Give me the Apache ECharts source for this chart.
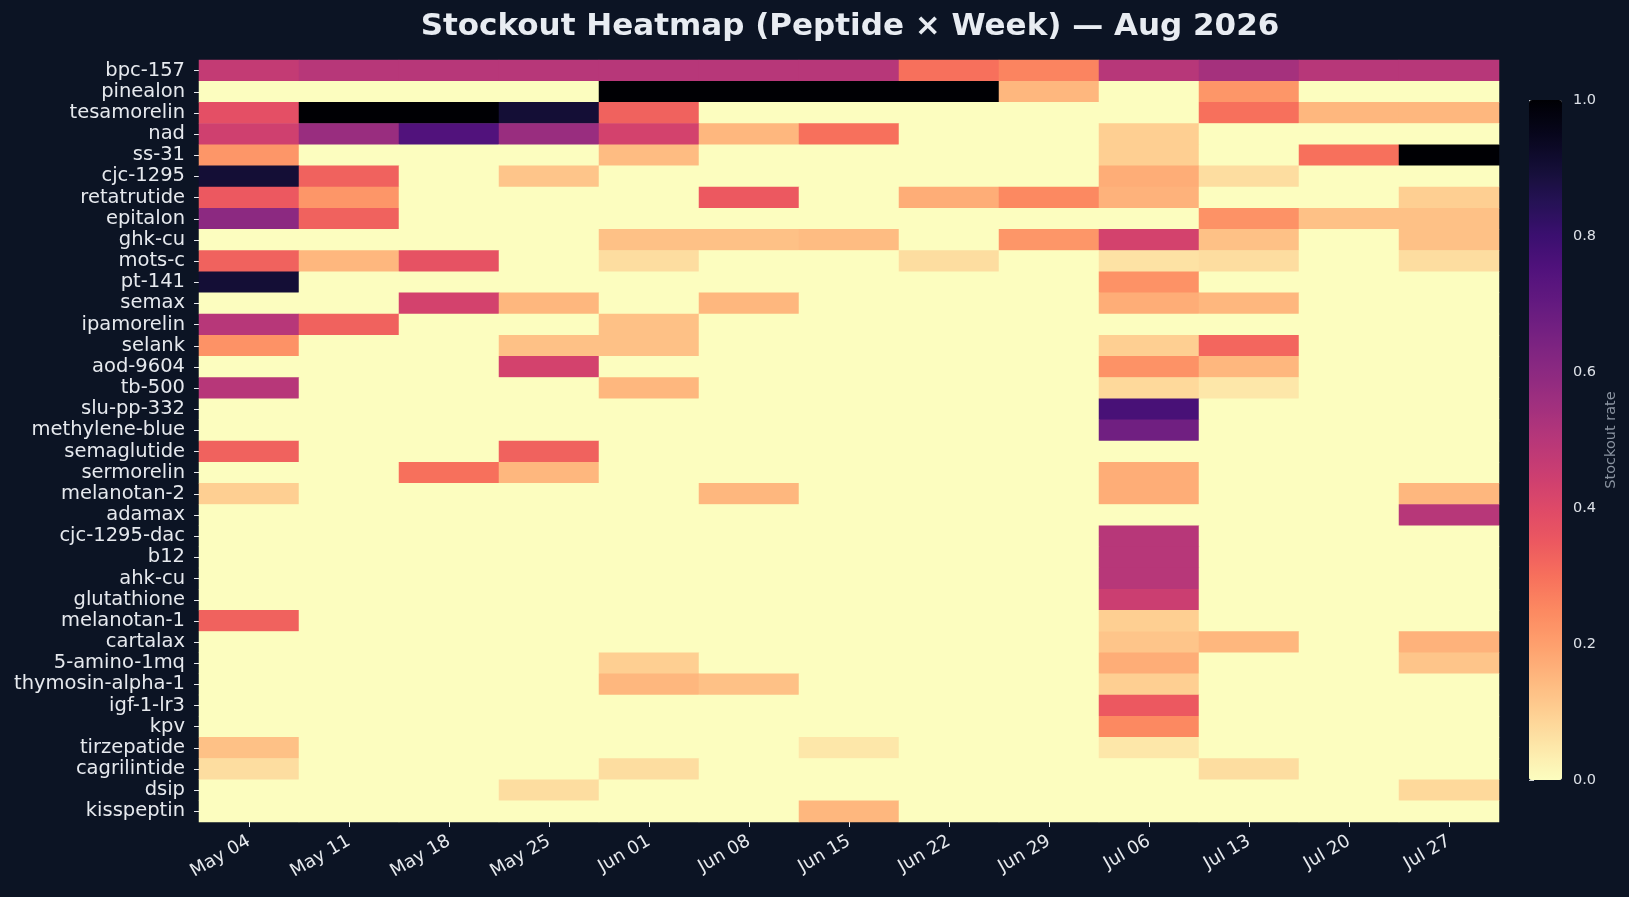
<!DOCTYPE html>
<html>
<head>
<meta charset="utf-8">
<script src="https://cdn.jsdelivr.net/npm/echarts@6/dist/echarts.min.js"></script>
<style>
  html, body { margin: 0; padding: 0; background: #0c1424; }
  #chart { width: 1629px; height: 897px; }
</style>
</head>
<body>
<div id="chart"></div>
<script>
// weeks on x, peptides on y (top to bottom)
const weeks = ['May 04', 'May 11', 'May 18', 'May 25', 'Jun 01', 'Jun 08', 'Jun 15',
               'Jun 22', 'Jun 29', 'Jul 06', 'Jul 13', 'Jul 20', 'Jul 27'];

const peptides = ['bpc-157', 'pinealon', 'tesamorelin', 'nad', 'ss-31', 'cjc-1295',
  'retatrutide', 'epitalon', 'ghk-cu', 'mots-c', 'pt-141', 'semax', 'ipamorelin',
  'selank', 'aod-9604', 'tb-500', 'slu-pp-332', 'methylene-blue', 'semaglutide',
  'sermorelin', 'melanotan-2', 'adamax', 'cjc-1295-dac', 'b12', 'ahk-cu',
  'glutathione', 'melanotan-1', 'cartalax', '5-amino-1mq', 'thymosin-alpha-1',
  'igf-1-lr3', 'kpv', 'tirzepatide', 'cagrilintide', 'dsip', 'kisspeptin'];

// stockout rate per peptide (row) per week (column)
const stockoutRates = [
  [0.47, 0.50, 0.50, 0.50, 0.50, 0.50, 0.50, 0.30, 0.26, 0.50, 0.54, 0.50, 0.50], // bpc-157
  [0, 0, 0, 0, 1.00, 1.00, 1.00, 1.00, 0.15, 0, 0.22, 0, 0],                      // pinealon
  [0.38, 1.00, 1.00, 0.90, 0.33, 0, 0, 0, 0, 0, 0.30, 0.15, 0.15],                // tesamorelin
  [0.44, 0.57, 0.75, 0.57, 0.43, 0.15, 0.30, 0, 0, 0.10, 0, 0, 0],                // nad
  [0.22, 0, 0, 0, 0.14, 0, 0, 0, 0, 0.10, 0, 0.30, 1.00],                         // ss-31
  [0.90, 0.33, 0, 0.12, 0, 0, 0, 0, 0, 0.17, 0.07, 0, 0],                         // cjc-1295
  [0.35, 0.22, 0, 0, 0, 0.35, 0, 0.17, 0.25, 0.16, 0, 0, 0.10],                   // retatrutide
  [0.60, 0.33, 0, 0, 0, 0, 0, 0, 0, 0, 0.23, 0.13, 0.13],                         // epitalon
  [0, 0, 0, 0, 0.13, 0.13, 0.14, 0, 0.22, 0.43, 0.13, 0, 0.13],                   // ghk-cu
  [0.33, 0.15, 0.37, 0, 0.07, 0, 0, 0.07, 0, 0.06, 0.07, 0, 0.07],                // mots-c
  [0.90, 0, 0, 0, 0, 0, 0, 0, 0, 0.23, 0, 0, 0],                                  // pt-141
  [0, 0, 0.43, 0.15, 0, 0.15, 0, 0, 0, 0.17, 0.15, 0, 0],                         // semax
  [0.50, 0.33, 0, 0, 0.13, 0, 0, 0, 0, 0, 0, 0, 0],                               // ipamorelin
  [0.23, 0, 0, 0.13, 0.13, 0, 0, 0, 0, 0.10, 0.32, 0, 0],                         // selank
  [0, 0, 0, 0.43, 0, 0, 0, 0, 0, 0.23, 0.15, 0, 0],                               // aod-9604
  [0.50, 0, 0, 0, 0.15, 0, 0, 0, 0, 0.08, 0.05, 0, 0],                            // tb-500
  [0, 0, 0, 0, 0, 0, 0, 0, 0, 0.77, 0, 0, 0],                                     // slu-pp-332
  [0, 0, 0, 0, 0, 0, 0, 0, 0, 0.67, 0, 0, 0],                                     // methylene-blue
  [0.33, 0, 0, 0.33, 0, 0, 0, 0, 0, 0, 0, 0, 0],                                  // semaglutide
  [0, 0, 0.30, 0.15, 0, 0, 0, 0, 0, 0.17, 0, 0, 0],                               // sermorelin
  [0.10, 0, 0, 0, 0, 0.15, 0, 0, 0, 0.17, 0, 0, 0.15],                            // melanotan-2
  [0, 0, 0, 0, 0, 0, 0, 0, 0, 0, 0, 0, 0.50],                                     // adamax
  [0, 0, 0, 0, 0, 0, 0, 0, 0, 0.50, 0, 0, 0],                                     // cjc-1295-dac
  [0, 0, 0, 0, 0, 0, 0, 0, 0, 0.50, 0, 0, 0],                                     // b12
  [0, 0, 0, 0, 0, 0, 0, 0, 0, 0.50, 0, 0, 0],                                     // ahk-cu
  [0, 0, 0, 0, 0, 0, 0, 0, 0, 0.45, 0, 0, 0],                                     // glutathione
  [0.33, 0, 0, 0, 0, 0, 0, 0, 0, 0.10, 0, 0, 0],                                  // melanotan-1
  [0, 0, 0, 0, 0, 0, 0, 0, 0, 0.12, 0.15, 0, 0.16],                               // cartalax
  [0, 0, 0, 0, 0.10, 0, 0, 0, 0, 0.17, 0, 0, 0.12],                               // 5-amino-1mq
  [0, 0, 0, 0, 0.15, 0.13, 0, 0, 0, 0.10, 0, 0, 0],                               // thymosin-alpha-1
  [0, 0, 0, 0, 0, 0, 0, 0, 0, 0.35, 0, 0, 0],                                     // igf-1-lr3
  [0, 0, 0, 0, 0, 0, 0, 0, 0, 0.25, 0, 0, 0],                                     // kpv
  [0.13, 0, 0, 0, 0, 0, 0.05, 0, 0, 0.05, 0, 0, 0],                               // tirzepatide
  [0.07, 0, 0, 0, 0.07, 0, 0, 0, 0, 0, 0.07, 0, 0],                               // cagrilintide
  [0, 0, 0, 0.07, 0, 0, 0, 0, 0, 0, 0, 0, 0.08],                                  // dsip
  [0, 0, 0, 0, 0, 0, 0.15, 0, 0, 0, 0, 0, 0]                                      // kisspeptin
];

// magma colormap, reversed (0 = pale yellow, 1 = black)
const magmaReversed = ['#fcfdbf', '#fde7a9', '#fecf92', '#feb77e', '#fe9f6d', '#fc8961',
  '#f7705c', '#ec5860', '#de4968', '#cb3e71', '#b73779', '#a1307e', '#8c2981', '#782281',
  '#641a80', '#51127c', '#3b0f70', '#251255', '#140e36', '#07061c', '#000004'];

const cells = [];
stockoutRates.forEach((row, y) => {
  row.forEach((v, x) => cells.push([x, y, v]));
});

const textColor = '#e6e9ee';
const font = 'DejaVu Sans';

const chart = echarts.init(document.getElementById('chart'), null, { renderer: 'canvas' });

chart.setOption({
  backgroundColor: '#0c1424',
  animation: false,
  title: {
    text: 'Stockout Heatmap (Peptide \u00d7 Week) \u2014 Aug 2026',
    left: 845,
    textAlign: 'center',
    top: 6,
    textStyle: { color: '#e8ecf2', fontSize: 31, fontWeight: 'bold', fontFamily: font }
  },
  grid: [
    // pale fill under the cells hides anti-aliasing seams between them
    { left: 199, top: 60, width: 1300, height: 762, show: true,
      backgroundColor: magmaReversed[0], borderWidth: 0 },
    { left: 1529, top: 100, width: 33, height: 680 }
  ],
  xAxis: [
    {
      type: 'category',
      data: weeks,
      gridIndex: 0,
      position: 'bottom',
      axisLine: { show: false },
      axisTick: { show: true, alignWithLabel: true, length: 5, lineStyle: { color: textColor } },
      axisLabel: { rotate: 30, margin: 18, fontSize: 18, color: textColor, fontFamily: font, interval: 0 },
      splitLine: { show: false }
    },
    { type: 'value', gridIndex: 1, show: false, min: 0, max: 1 }
  ],
  yAxis: [
    {
      type: 'category',
      data: peptides,
      gridIndex: 0,
      inverse: true,
      axisLine: { show: false },
      axisTick: { show: true, alignWithLabel: true, length: 5, lineStyle: { color: textColor } },
      axisLabel: { margin: 14, fontSize: 19.5, color: textColor, fontFamily: font, interval: 0 },
      splitLine: { show: false }
    },
    {
      type: 'value',
      gridIndex: 1,
      position: 'right',
      min: 0,
      max: 1,
      interval: 0.2,
      name: 'Stockout rate',
      nameLocation: 'middle',
      nameRotate: 90,
      nameGap: 42,
      nameTextStyle: { color: '#8a93a0', fontSize: 14.5, fontFamily: font },
      axisLine: { show: false },
      axisTick: { show: true, length: 5, lineStyle: { color: '#cfd3da' } },
      axisLabel: { margin: 11, fontSize: 14.5, color: '#dde1e8', fontFamily: font,
                   formatter: v => v.toFixed(1) },
      splitLine: { show: false }
    }
  ],
  visualMap: {
    type: 'continuous',
    seriesIndex: 0,
    min: 0,
    max: 1,
    calculable: false,
    orient: 'vertical',
    left: 1529,
    top: 100,
    padding: 0,
    itemWidth: 33,
    itemHeight: 680,
    text: null,
    showLabel: false,
    inRange: { color: magmaReversed }
  },
  series: [
    {
      type: 'heatmap',
      xAxisIndex: 0,
      yAxisIndex: 0,
      data: cells,
      itemStyle: { borderWidth: 0 },
      emphasis: { disabled: true },
      progressive: 0
    },
    { type: 'scatter', xAxisIndex: 1, yAxisIndex: 1, data: [], silent: true }
  ]
});
</script>
</body>
</html>
